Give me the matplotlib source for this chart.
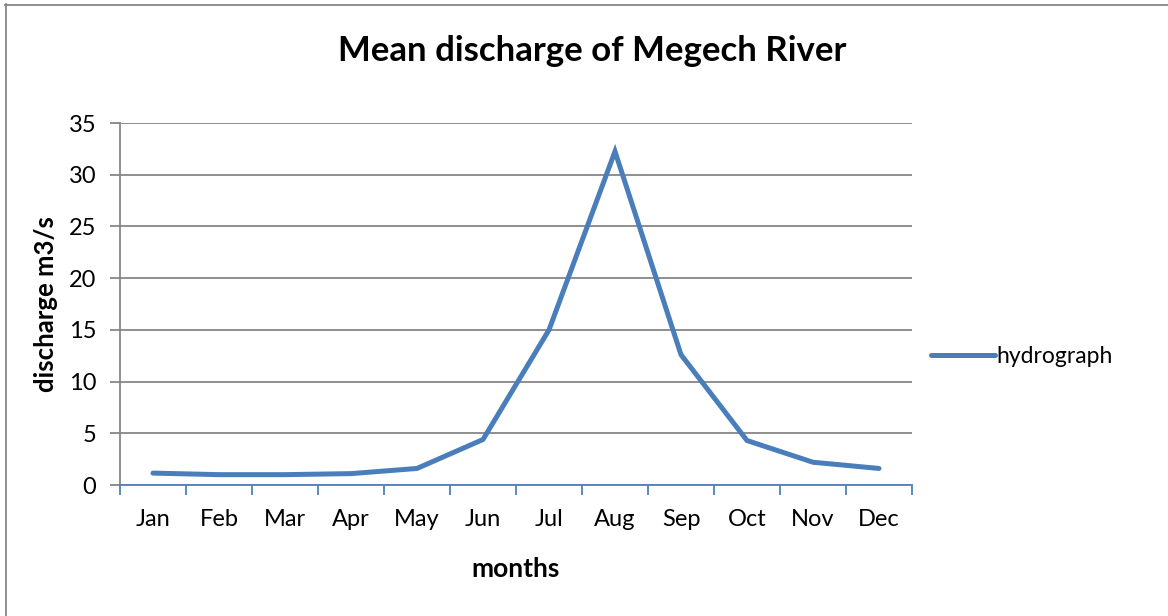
import numpy as np
from matplotlib import pyplot as plt
from matplotlib.lines import Line2D

months = ["Jan", "Feb", "Mar", "Apr", "May", "Jun",
          "Jul", "Aug", "Sep", "Oct", "Nov", "Dec"]
discharge = [1.15, 1.0, 1.0, 1.1, 1.6, 4.4, 15.0, 32.25, 12.6, 4.3, 2.2, 1.6]
y_ticks = [0, 5, 10, 15, 20, 25, 30, 35]

plt.rcParams['font.family'] = ['Lato', 'DejaVu Sans']

fig = plt.figure(figsize=(11.68, 6.16), dpi=100)
ax = fig.add_axes([120 / 1168, 131 / 616, 792 / 1168, 362 / 616])

x = np.arange(len(months))
ax.plot(x, discharge, color="#4A7EBB", linewidth=3.6,
        solid_joinstyle="miter", solid_capstyle="round", label="hydrograph")

ax.set_xlim(-0.5, len(months) - 0.5)
ax.set_ylim(0, 35)
ax.set_yticks(y_ticks)
ax.yaxis.grid(True, color="#868686", linewidth=1.3)
ax.set_axisbelow(True)

ax.set_xticks(x)
ax.set_xticklabels(months)
ax.set_xticks(np.arange(-0.5, len(months)), minor=True)
ax.tick_params(axis="x", which="major", length=0, pad=17, labelsize=17)
ax.tick_params(axis="x", which="minor", length=7, width=1.3,
               color="#4F81BD", direction="out")
ax.tick_params(axis="y", length=7, width=1.3, color="#868686",
               labelsize=17, pad=10)

for side in ["top", "right"]:
    ax.spines[side].set_visible(False)
ax.spines["left"].set_color("#868686")
ax.spines["left"].set_linewidth(1.3)
ax.spines["bottom"].set_color("#4F81BD")
ax.spines["bottom"].set_linewidth(1.3)

ax.set_xlabel("months", fontsize=19, fontweight="bold", labelpad=20)
ax.set_ylabel("discharge m3/s", fontsize=18.5, fontweight="bold", labelpad=8)
fig.suptitle("Mean discharge of Megech River", fontsize=25,
             fontweight="bold", x=592 / 1168, y=1 - 51 / 616, va="center")

ax.legend(loc="center left", bbox_to_anchor=(0.998, 0.355), frameon=False,
          fontsize=16.5, handlelength=2.8, handletextpad=0.05)

# chart area border (left and top edges visible)
fig.add_artist(Line2D([5.5 / 1168, 5.5 / 1168], [0, 1 - 4 / 616],
                      transform=fig.transFigure, color="#868686", linewidth=1.3))
fig.add_artist(Line2D([5 / 1168, 1], [1 - 4.5 / 616, 1 - 4.5 / 616],
                      transform=fig.transFigure, color="#868686", linewidth=1.3))

plt.savefig("out.png", dpi=100)
